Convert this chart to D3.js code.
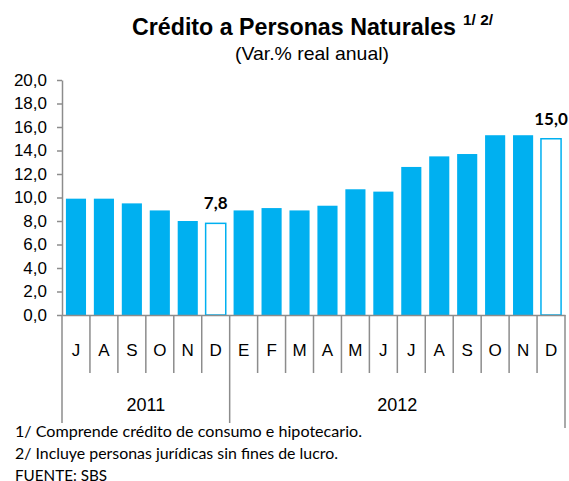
<!DOCTYPE html>
<html>
<head>
<meta charset="utf-8">
<script src="https://cdn.jsdelivr.net/npm/d3@7"></script>
<style>
  body { margin: 0; background: #fff; }
  svg { display: block; }
  .narrow { font-family: "Liberation Sans Narrow", "Arial Narrow", "Liberation Sans", Arial, sans-serif; }
  .note { font-family: Lato, "Open Sans", sans-serif; }
</style>
</head>
<body>
<svg id="main" width="569" height="481"></svg>
<script>
// data
var months = ["J", "A", "S", "O", "N", "D", "E", "F", "M", "A", "M", "J", "J", "A", "S", "O", "N", "D"];
var values = [9.9, 9.9, 9.5, 8.9, 8.0, 7.8, 8.9, 9.1, 8.9, 9.3, 10.7, 10.5, 12.6, 13.5, 13.7, 15.3, 15.3, 15.0];
var hollow = [5, 17];            // december bars drawn empty, with label
var years = ["2011", "2012"];
var yearMonths = [6, 12];
var yTicks = [0, 2, 4, 6, 8, 10, 12, 14, 16, 18, 20];
var notes = ["1/ Comprende crédito de consumo e hipotecario.",
             "2/ Incluye personas jurídicas sin fines de lucro.",
             "FUENTE: SBS"];

var blue = "#00b0f0",
    grey = "#8c8c8c";

var svg = d3.select("#main");
var es = d3.formatLocale({decimal: ",", thousands: ".", grouping: [3], currency: ["", ""]});
var fmt = es.format(".1f");

// note: "top" is taken by window.top, so plot edges get their own names
var plotLeft = 62, plotRight = 565, plotTop = 80, plotBottom = 315;

var x = d3.scaleBand()
        .domain(d3.range(months.length))
        .range([plotLeft, plotRight])
        .paddingInner(0.28)
        .paddingOuter(0.14),
    y = d3.scaleLinear()
        .domain([0, 20])
        .range([plotBottom, plotTop]);

// title
svg.append("text")
    .attr("class", "narrow")
    .attr("x", 132)
    .attr("y", 35)
    .attr("textLength", 324)
    .attr("lengthAdjust", "spacingAndGlyphs")
    .style("font-weight", "bold")
    .style("font-size", "24px")
    .text("Crédito a Personas Naturales");
svg.append("text")
    .attr("class", "narrow")
    .attr("x", 463)
    .attr("y", 25)
    .attr("textLength", 30)
    .attr("lengthAdjust", "spacingAndGlyphs")
    .style("font-weight", "bold")
    .style("font-size", "14px")
    .text("1/ 2/");
svg.append("text")
    .attr("class", "narrow")
    .attr("x", 235)
    .attr("y", 60)
    .attr("textLength", 154)
    .attr("lengthAdjust", "spacingAndGlyphs")
    .style("font-size", "19px")
    .text("(Var.% real anual)");

// y axis
var yAxis = svg.append("g")
    .attr("transform", "translate(" + plotLeft + ",0)")
    .call(d3.axisLeft(y).tickValues(yTicks).tickFormat(fmt).tickSize(5).tickPadding(10).tickSizeOuter(0));
yAxis.selectAll("line, path").attr("stroke", grey).attr("stroke-width", 1.5);
yAxis.selectAll("text")
    .attr("fill", "#000")
    .style("font-family", "'Liberation Sans', Arial, sans-serif")
    .style("font-size", "17px");

// bars
svg.append("g").selectAll("rect")
    .data(values)
    .join("rect")
    .attr("x", function(d, i) { return x(i); })
    .attr("y", function(d) { return y(d); })
    .attr("width", x.bandwidth())
    .attr("height", function(d) { return y(0) - y(d); })
    .attr("fill", function(d, i) { return hollow.indexOf(i) >= 0 ? "#fff" : blue; })
    .attr("stroke", function(d, i) { return hollow.indexOf(i) >= 0 ? blue : "none"; })
    .attr("stroke-width", 1.5);

// labels on the hollow bars
svg.append("g").selectAll("text")
    .data(hollow)
    .join("text")
    .attr("class", "note")
    .attr("x", function(i) { return x(i) + x.bandwidth() / 2; })
    .attr("y", function(i) { return y(values[i]) - 14; })
    .attr("text-anchor", "middle")
    .style("font-weight", "bold")
    .style("font-size", "17px")
    .text(function(i) { return fmt(values[i]); });

// x axis with month labels
var xAxis = svg.append("g")
    .attr("transform", "translate(0," + plotBottom + ")")
    .call(d3.axisBottom(x).tickFormat(function(i) { return months[i]; }).tickSize(0).tickPadding(29));
xAxis.select("path").attr("stroke", grey).attr("stroke-width", 1.5);
xAxis.selectAll("text")
    .attr("fill", "#000")
    .style("font-family", "'Liberation Sans', Arial, sans-serif")
    .style("font-size", "17px");

// separators between months, longer ones between years
var step = x.step(), x0 = x(0) - x.paddingOuter() * step;
var yearEdges = [0];
yearMonths.forEach(function(n) { yearEdges.push(yearEdges[yearEdges.length - 1] + n); });

svg.append("g").selectAll("line")
    .data(d3.range(months.length + 1))
    .join("line")
    .attr("x1", function(i) { return x0 + i * step; })
    .attr("x2", function(i) { return x0 + i * step; })
    .attr("y1", plotBottom)
    .attr("y2", function(i) {
        if (i == months.length) return 428;
        return yearEdges.indexOf(i) >= 0 ? 423 : 373; })
    .attr("stroke", grey)
    .attr("stroke-width", 1.5);

svg.append("g").selectAll("text")
    .data(years)
    .join("text")
    .attr("x", function(d, k) { return x0 + (yearEdges[k] + yearEdges[k + 1]) / 2 * step; })
    .attr("y", 411)
    .attr("text-anchor", "middle")
    .style("font-family", "'Liberation Sans', Arial, sans-serif")
    .style("font-size", "18px")
    .text(function(d) { return d; });

// footnotes
var noteWidths = [347, 323, 92];
svg.append("g").selectAll("text")
    .data(notes)
    .join("text")
    .attr("class", "note")
    .attr("x", 15)
    .attr("y", function(d, i) { return 437 + i * 22; })
    .attr("textLength", function(d, i) { return noteWidths[i]; })
    .attr("lengthAdjust", "spacingAndGlyphs")
    .style("font-size", "16px")
    .text(function(d) { return d; });
</script>
</body>
</html>
